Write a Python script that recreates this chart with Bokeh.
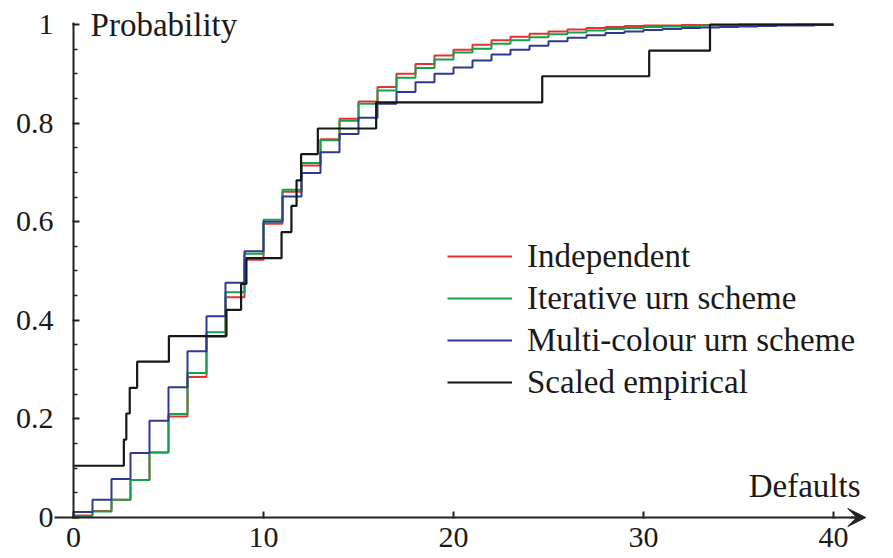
from bokeh.plotting import figure
from bokeh.models import (LinearAxis, FixedTicker, Range1d, Legend, LegendItem,
                          Arrow, VeeHead, Label)
from bokeh.embed import file_html
from bokeh.resources import INLINE

# ---------------- data ----------------
defaults = list(range(41))
independent = [0.004, 0.013, 0.036, 0.076, 0.132, 0.205, 0.285, 0.367, 0.447, 0.523,
               0.596, 0.661, 0.714, 0.767, 0.809, 0.844, 0.873, 0.900, 0.920, 0.937,
               0.949, 0.959, 0.968, 0.975, 0.981, 0.986, 0.990, 0.993, 0.995, 0.997,
               0.998, 0.998, 0.999, 0.999, 0.999, 1.0, 1.0, 1.0, 1.0, 1.0, 1.0]
iterative = [0.003, 0.012, 0.036, 0.076, 0.132, 0.210, 0.293, 0.376, 0.457, 0.535,
             0.604, 0.665, 0.719, 0.765, 0.805, 0.839, 0.866, 0.892, 0.912, 0.929,
             0.943, 0.951, 0.961, 0.968, 0.974, 0.980, 0.984, 0.988, 0.991, 0.993,
             0.995, 0.996, 0.997, 0.998, 0.998, 0.999, 0.999, 0.999, 1.0, 1.0, 1.0]
multicolour = [0.011, 0.036, 0.078, 0.131, 0.196, 0.264, 0.337, 0.408, 0.476, 0.540,
               0.600, 0.651, 0.699, 0.741, 0.778, 0.811, 0.839, 0.863, 0.883, 0.900,
               0.913, 0.927, 0.939, 0.949, 0.957, 0.966, 0.973, 0.978, 0.983, 0.986,
               0.989, 0.991, 0.993, 0.994, 0.995, 0.996, 0.997, 0.998, 0.998, 0.999, 0.999]
empirical_x = [0, 2.65, 2.78, 2.96, 3.35, 5.02, 8.05, 8.82, 9.1, 10.95, 11.47, 11.74,
               11.98, 12.86, 15.93, 24.67, 30.3, 33.5, 40]
empirical_y = [0.105, 0.158, 0.211, 0.263, 0.316, 0.368, 0.421, 0.474, 0.526, 0.579,
               0.632, 0.684, 0.737, 0.789, 0.842, 0.895, 0.947, 1.0, 1.0]

series_names = ["Independent", "Iterative urn scheme", "Multi-colour urn scheme",
                "Scaled empirical"]
x_ticks = [0, 10, 20, 30, 40]
y_ticks = [0, 0.2, 0.4, 0.6, 0.8, 1.0]
y_tick_labels = ["0", "0.2", "0.4", "0.6", "0.8", "1"]
y_minor_ticks = [0.05, 0.1, 0.15, 0.25, 0.3, 0.35, 0.45, 0.5, 0.55,
                 0.65, 0.7, 0.75, 0.85, 0.9, 0.95]
x_title = "Defaults"
y_title = "Probability"

# ---------------- style ----------------
RED = "#e6332f"
GREEN = "#14a04c"
BLUE = "#2d3a8f"
BLACK = "#161616"
AXIS = "#222222"
TEXT = "#1a1a1a"
FONT = "Liberation Serif"

p = figure(width=885, height=554, output_backend="svg", toolbar_location=None,
           x_axis_location=None, y_axis_location=None,
           x_range=Range1d(-3.8421, 42.737), y_range=Range1d(-0.07505, 1.04868),
           min_border=0, outline_line_color=None)
p.grid.visible = False
p.background_fill_color = "white"
p.border_fill_color = "white"

xaxis = LinearAxis(fixed_location=0, ticker=FixedTicker(ticks=x_ticks),
                   bounds=(-1, 41.2))
yaxis = LinearAxis(fixed_location=0,
                   ticker=FixedTicker(ticks=y_ticks, minor_ticks=y_minor_ticks),
                   bounds=(0, 1.004),
                   major_label_overrides=dict(zip(y_ticks, y_tick_labels)))
for ax in (xaxis, yaxis):
    ax.axis_line_width = 2
    ax.axis_line_color = AXIS
    ax.major_tick_line_width = 2
    ax.major_tick_line_color = AXIS
    ax.minor_tick_line_width = 1.5
    ax.minor_tick_line_color = AXIS
    ax.major_tick_in = 6
    ax.major_tick_out = 1
    ax.major_label_text_font = FONT
    ax.major_label_text_font_size = "30px"
    ax.major_label_text_color = TEXT
xaxis.minor_tick_in = 0
xaxis.minor_tick_out = 0
xaxis.major_label_standoff = 9
yaxis.minor_tick_in = 4
yaxis.minor_tick_out = 0
yaxis.major_label_standoff = 19
p.add_layout(xaxis, "below")
p.add_layout(yaxis, "left")

p.add_layout(Arrow(end=VeeHead(size=18, fill_color=AXIS, line_color=AXIS, line_width=1),
                   x_start=40.9, y_start=0, x_end=41.7, y_end=0,
                   line_width=2, line_color=AXIS))

r1 = p.step(defaults, independent, mode="after", line_color=RED, line_width=2)
r2 = p.step(defaults, iterative, mode="after", line_color=GREEN, line_width=2)
r3 = p.step(defaults, multicolour, mode="after", line_color=BLUE, line_width=2)
r4 = p.step(empirical_x, empirical_y, mode="after", line_color=BLACK, line_width=2.2)

legend = Legend(items=[LegendItem(label=n, renderers=[r])
                       for n, r in zip(series_names, [r1, r2, r3, r4])],
                location=(447, 151), padding=0, margin=0, spacing=0,
                glyph_width=65, glyph_height=42, label_height=42, label_standoff=15,
                label_text_font=FONT, label_text_font_size="33px",
                label_text_color=TEXT,
                border_line_alpha=0, background_fill_alpha=0)
p.add_layout(legend)

p.add_layout(Label(x=0.9, y=0.998, text=y_title, text_font=FONT,
                   text_font_size="33px", text_color=TEXT,
                   text_align="left", text_baseline="alphabetic"))
p.add_layout(Label(x=41.42, y=0.063, text=x_title, text_font=FONT,
                   text_font_size="33px", text_color=TEXT,
                   text_align="right", text_baseline="alphabetic"))

open("out.html", "w").write(file_html(p, INLINE))
